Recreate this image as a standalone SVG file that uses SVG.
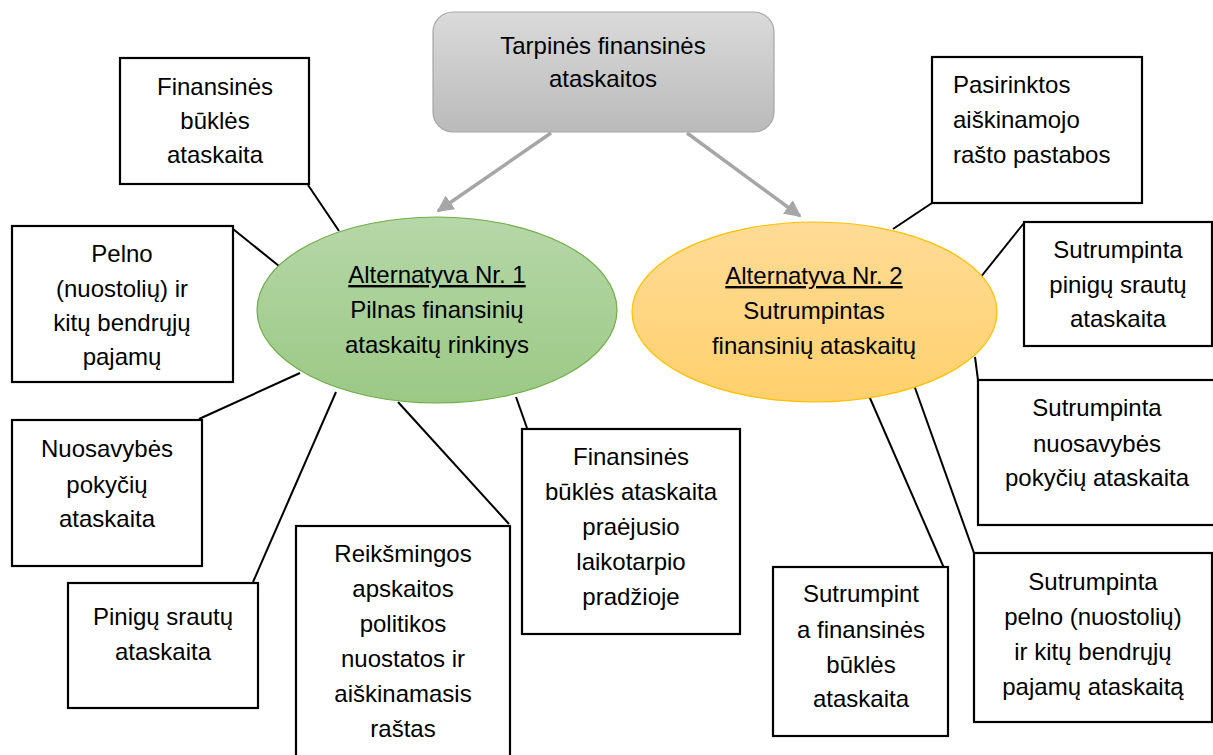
<svg xmlns="http://www.w3.org/2000/svg" width="1213" height="755" viewBox="0 0 1213 755">
  <defs>
    <linearGradient id="gGray" x1="0" y1="0" x2="0" y2="1">
      <stop offset="0" stop-color="#dadada"/>
      <stop offset="1" stop-color="#bababa"/>
    </linearGradient>
    <linearGradient id="gGreen" x1="0" y1="0" x2="0" y2="1">
      <stop offset="0" stop-color="#b6d7a8"/>
      <stop offset="1" stop-color="#9bc985"/>
    </linearGradient>
    <linearGradient id="gOrange" x1="0" y1="0" x2="0" y2="1">
      <stop offset="0" stop-color="#ffdb96"/>
      <stop offset="1" stop-color="#ffd06c"/>
    </linearGradient>
    <marker id="arrowGray" viewBox="0 0 10 10" refX="9" refY="5" markerWidth="4.8" markerHeight="4.8" orient="auto" markerUnits="strokeWidth">
      <path d="M0,0 L10,5 L0,10 z" fill="#a6a6a6"/>
    </marker>
  </defs>
  <style>
    .t { font-family: "Liberation Sans", Arial, sans-serif; font-size: 24px; fill: #000; text-anchor: middle; }
    .l { text-anchor: start; }
    .u { text-decoration: underline; }
    .box { fill: #fff; stroke: #000; stroke-width: 2.2; }
    .link { stroke: #000; stroke-width: 2; fill: none; }
    .arrow { stroke: #a6a6a6; stroke-width: 3.5; fill: none; }
  </style>

  <rect width="1213" height="755" fill="#fff"/>

  <!-- connectors -->
  <g id="connectors">
    <line class="arrow" x1="551" y1="133" x2="438" y2="211" marker-end="url(#arrowGray)"/>
    <line class="arrow" x1="687" y1="133" x2="800" y2="216" marker-end="url(#arrowGray)"/>
    <line class="link" x1="308" y1="185" x2="339" y2="231"/>
    <line class="link" x1="233" y1="229" x2="279" y2="266"/>
    <line class="link" x1="199" y1="419" x2="300" y2="373"/>
    <line class="link" x1="253" y1="582" x2="336" y2="392"/>
    <line class="link" x1="509" y1="524" x2="398" y2="402"/>
    <line class="link" x1="516" y1="397" x2="527" y2="428"/>
    <line class="link" x1="932" y1="203" x2="893" y2="229"/>
    <line class="link" x1="1024" y1="223" x2="980" y2="278"/>
    <line class="link" x1="975" y1="357" x2="978" y2="380"/>
    <line class="link" x1="914" y1="385" x2="974" y2="553"/>
    <line class="link" x1="863" y1="382" x2="944" y2="568"/>
  </g>

  <!-- root -->
  <g id="root">
    <rect x="433" y="12" width="341" height="120" rx="20" ry="20" fill="url(#gGray)" stroke="#a6a6a6" stroke-width="1.2"/>
    <text class="t" x="603" y="54">Tarpinės finansinės</text>
    <text class="t" x="603" y="87">ataskaitos</text>
  </g>

  <!-- alternative 1 -->
  <g id="alt1">
    <ellipse cx="437" cy="310" rx="180" ry="93" fill="url(#gGreen)" stroke="#70ad47" stroke-width="1.2"/>
    <text class="t u" x="437" y="283">Alternatyva Nr. 1</text>
    <text class="t" x="437" y="318">Pilnas finansinių</text>
    <text class="t" x="437" y="353">ataskaitų rinkinys</text>
  </g>

  <!-- alternative 2 -->
  <g id="alt2">
    <ellipse cx="814.5" cy="312" rx="182.5" ry="90" fill="url(#gOrange)" stroke="#ffc000" stroke-width="1.2"/>
    <text class="t u" x="814" y="284">Alternatyva Nr. 2</text>
    <text class="t" x="814" y="319">Sutrumpintas</text>
    <text class="t" x="814" y="354">finansinių ataskaitų</text>
  </g>

  <!-- full set items -->
  <g id="n-fin-bukle">
    <rect class="box" x="120" y="58" width="189" height="126"/>
    <text class="t" x="215" y="95">Finansinės</text>
    <text class="t" x="215" y="129">būklės</text>
    <text class="t" x="215" y="163">ataskaita</text>
  </g>

  <g id="n-pelno">
    <rect class="box" x="12" y="226" width="221" height="156"/>
    <text class="t" x="122" y="262">Pelno</text>
    <text class="t" x="122" y="297">(nuostolių) ir</text>
    <text class="t" x="122" y="331">kitų bendrųjų</text>
    <text class="t" x="122" y="365">pajamų</text>
  </g>

  <g id="n-nuosavybe">
    <rect class="box" x="12" y="420" width="190" height="146"/>
    <text class="t" x="107" y="457">Nuosavybės</text>
    <text class="t" x="107" y="493">pokyčių</text>
    <text class="t" x="107" y="527">ataskaita</text>
  </g>

  <g id="n-pinigu">
    <rect class="box" x="68" y="583" width="190" height="125"/>
    <text class="t" x="163" y="625">Pinigų srautų</text>
    <text class="t" x="163" y="660">ataskaita</text>
  </g>

  <g id="n-politika">
    <rect class="box" x="296" y="526" width="214" height="240"/>
    <text class="t" x="403" y="562">Reikšmingos</text>
    <text class="t" x="403" y="597">apskaitos</text>
    <text class="t" x="403" y="632">politikos</text>
    <text class="t" x="403" y="667">nuostatos ir</text>
    <text class="t" x="403" y="702">aiškinamasis</text>
    <text class="t" x="403" y="737">raštas</text>
  </g>

  <g id="n-praejusio">
    <rect class="box" x="522" y="429" width="218" height="205"/>
    <text class="t" x="631" y="465">Finansinės</text>
    <text class="t" x="631" y="500">būklės ataskaita</text>
    <text class="t" x="631" y="535">praėjusio</text>
    <text class="t" x="631" y="570">laikotarpio</text>
    <text class="t" x="631" y="605">pradžioje</text>
  </g>

  <!-- condensed set items -->
  <g id="n-pastabos">
    <rect class="box" x="932" y="57" width="210" height="146"/>
    <text class="t l" x="953" y="93">Pasirinktos</text>
    <text class="t l" x="953" y="128">aiškinamojo</text>
    <text class="t l" x="953" y="163">rašto pastabos</text>
  </g>

  <g id="n-s-pinigu">
    <rect class="box" x="1024" y="222" width="188" height="124"/>
    <text class="t" x="1118" y="258">Sutrumpinta</text>
    <text class="t" x="1118" y="293">pinigų srautų</text>
    <text class="t" x="1118" y="327">ataskaita</text>
  </g>

  <g id="n-s-nuosavybe">
    <rect class="box" x="978" y="380" width="260" height="145"/>
    <text class="t" x="1097" y="416">Sutrumpinta</text>
    <text class="t" x="1097" y="452">nuosavybės</text>
    <text class="t" x="1097" y="486">pokyčių ataskaita</text>
  </g>

  <g id="n-s-pelno">
    <rect class="box" x="974" y="553" width="238" height="169"/>
    <text class="t" x="1093" y="590">Sutrumpinta</text>
    <text class="t" x="1093" y="625">pelno (nuostolių)</text>
    <text class="t" x="1093" y="660">ir kitų bendrųjų</text>
    <text class="t" x="1093" y="695">pajamų ataskaitą</text>
  </g>

  <g id="n-s-bukle">
    <rect class="box" x="773" y="567" width="175" height="169"/>
    <text class="t" x="861" y="602">Sutrumpint</text>
    <text class="t" x="861" y="638">a finansinės</text>
    <text class="t" x="861" y="673">būklės</text>
    <text class="t" x="861" y="707">ataskaita</text>
  </g>
</svg>
